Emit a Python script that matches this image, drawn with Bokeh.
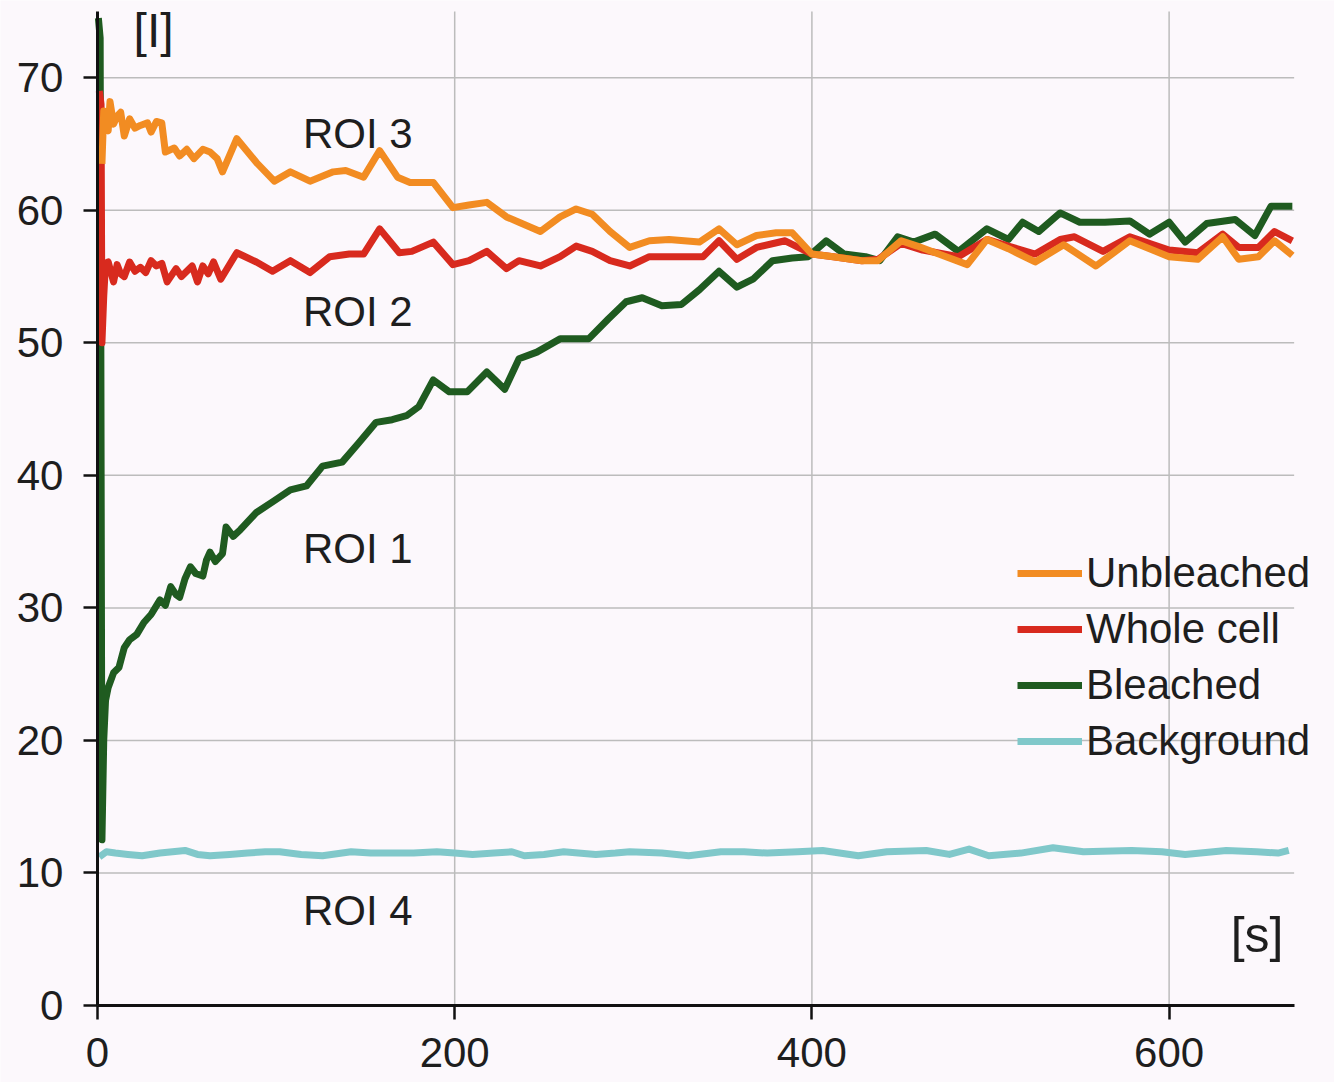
from bokeh.plotting import figure
from bokeh.models import Range1d, FixedTicker, Label, Legend, LegendItem, LinearAxis
from bokeh.embed import file_html
from bokeh.resources import INLINE

# ---------------- data ----------------
x_ticks = [0, 200, 400, 600]
y_ticks = [0, 10, 20, 30, 40, 50, 60, 70]
X_MAX = 670
Y_MAX = 75

bleached_t = [0.5, 1.5, 2.5, 3.5, 4.5, 6, 9, 12, 15, 18,
              22, 26, 30, 35, 38, 41, 44, 46, 49, 52,
              55, 59, 61, 63, 66, 70, 72, 76, 80, 89,
              98, 108, 117, 126, 137, 146, 156, 165, 173, 180,
              188, 197, 207, 218, 228, 236, 246, 259, 275, 286,
              296, 305, 316, 327, 337, 348, 358, 367, 378, 389,
              398, 408, 418, 430, 438, 448, 457, 469, 482, 498,
              510, 518, 527, 539, 550, 564, 578, 589, 600, 609,
              621, 637, 648, 657, 669]
bleached_v = [74.5, 73.0, 12.5, 20.0, 23.0, 24.0, 25.1, 25.5, 27.0, 27.6,
              28.0, 28.9, 29.5, 30.6, 30.2, 31.6, 31.0, 30.8, 32.2, 33.1,
              32.6, 32.4, 33.6, 34.2, 33.5, 34.1, 36.1, 35.4, 35.9, 37.2,
              38.0, 38.9, 39.2, 40.7, 41.0, 42.4, 44.0, 44.2, 44.5, 45.2,
              47.2, 46.3, 46.3, 47.8, 46.5, 48.8, 49.3, 50.3, 50.3, 51.8,
              53.1, 53.4, 52.8, 52.9, 54.0, 55.4, 54.2, 54.8, 56.2, 56.4,
              56.5, 57.7, 56.7, 56.5, 56.2, 58.0, 57.6, 58.2, 56.9, 58.6,
              57.8, 59.1, 58.4, 59.8, 59.1, 59.1, 59.2, 58.2, 59.1, 57.6,
              59.0, 59.3, 58.1, 60.3, 60.3]

whole_t = [1, 2, 2.5, 3.5, 4.5, 6, 9, 11, 13, 15,
           18, 21, 24, 27, 30, 33, 36, 39, 44, 47,
           50, 53, 56, 59, 62, 65, 69, 78, 89, 98,
           108, 119, 130, 141, 149, 158, 169, 176, 188, 199,
           208, 218, 229, 236, 248, 259, 268, 277, 287, 298,
           309, 320, 327, 339, 348, 358, 369, 385, 400, 412,
           428, 437, 450, 462, 482, 498, 510, 525, 539, 547,
           563, 578, 600, 616, 630, 639, 650, 659, 669]
whole_v = [69.0, 68.0, 50.0, 53.5, 56.0, 56.1, 54.6, 55.9, 55.2, 55.0,
           56.1, 55.4, 55.7, 55.3, 56.2, 55.8, 56.0, 54.6, 55.6, 55.0,
           55.4, 55.8, 54.6, 55.8, 55.2, 56.1, 54.8, 56.8, 56.1, 55.4,
           56.2, 55.3, 56.5, 56.7, 56.7, 58.6, 56.8, 56.9, 57.6, 55.9,
           56.2, 56.9, 55.6, 56.2, 55.8, 56.5, 57.3, 56.9, 56.2, 55.8,
           56.5, 56.5, 56.5, 56.5, 57.7, 56.3, 57.2, 57.7, 56.7, 56.5,
           56.2, 56.3, 57.5, 57.0, 56.5, 57.8, 57.3, 56.7, 57.8, 58.0,
           56.9, 58.0, 57.0, 56.8, 58.2, 57.2, 57.2, 58.4, 57.7]

unbleached_t = [2.5, 3.5, 4.5, 6, 7, 9, 11, 13, 15, 18,
                21, 24, 28, 30, 33, 36, 38, 43, 46, 50,
                54, 59, 63, 67, 70, 78, 89, 99, 108, 119,
                132, 139, 149, 158, 168, 175, 188, 199, 208, 218,
                229, 236, 248, 259, 268, 277, 287, 298, 309, 320,
                337, 348, 358, 369, 380, 389, 400, 412, 428, 437,
                450, 459, 471, 487, 498, 510, 525, 541, 559, 578,
                600, 616, 630, 639, 650, 659, 669]
unbleached_v = [63.5, 67.5, 66.5, 66.0, 68.2, 66.5, 67.1, 67.4, 65.6, 66.9,
                66.2, 66.4, 66.6, 65.9, 66.7, 66.6, 64.4, 64.7, 64.1, 64.6,
                63.9, 64.6, 64.4, 63.9, 62.9, 65.4, 63.6, 62.2, 62.9, 62.2,
                62.9, 63.0, 62.5, 64.5, 62.5, 62.1, 62.1, 60.2, 60.4, 60.6,
                59.5, 59.1, 58.4, 59.5, 60.1, 59.7, 58.4, 57.2, 57.7, 57.8,
                57.6, 58.6, 57.4, 58.1, 58.3, 58.3, 56.7, 56.5, 56.2, 56.2,
                57.7, 57.3, 56.7, 55.9, 57.8, 57.1, 56.1, 57.4, 55.8, 57.7,
                56.5, 56.3, 58.0, 56.3, 56.5, 57.7, 56.6]

background_t = [1, 5, 10, 17, 25, 35, 49, 56, 63, 74,
                84, 94, 102, 114, 126, 142, 153, 164, 177, 190,
                200, 210, 222, 232, 239, 250, 261, 279, 290, 298,
                316, 331, 349, 362, 375, 392, 406, 426, 442, 464,
                477, 488, 499, 517, 535, 552, 579, 596, 609, 632,
                649, 661, 667]
background_v = [11.2, 11.6, 11.5, 11.4, 11.3, 11.5, 11.7, 11.4, 11.3, 11.4,
                11.5, 11.6, 11.6, 11.4, 11.3, 11.6, 11.5, 11.5, 11.5, 11.6,
                11.5, 11.4, 11.5, 11.6, 11.3, 11.4, 11.6, 11.4, 11.5, 11.6,
                11.5, 11.3, 11.6, 11.6, 11.5, 11.6, 11.7, 11.3, 11.6, 11.7,
                11.4, 11.8, 11.3, 11.5, 11.9, 11.6, 11.7, 11.6, 11.4, 11.7,
                11.6, 11.5, 11.7]

series_names = ["Unbleached", "Whole cell", "Bleached", "Background"]
roi_texts = ["ROI 3", "ROI 2", "ROI 1", "ROI 4"]
roi_y = [65.8, 52.4, 34.5, 7.2]
roi_x = 115.0

# ---------------- style ----------------
BG = "#fcf8fc"
FONT = "Liberation Sans"
TXT = "#1e1e1e"
C_ORANGE = "#f28c22"
C_RED = "#d82a1e"
C_GREEN = "#1f5b20"
C_CYAN = "#80c8ca"
LW = 7

# The frame covers the whole figure; the data area (0..X_MAX, 0..Y_MAX)
# sits inside it so that axis labels and legend are not clipped.
p = figure(width=1334, height=1082,
           x_range=Range1d(-54.3, 692.6), y_range=Range1d(-5.81, 75.83),
           output_backend="svg", toolbar_location=None,
           x_axis_location=None, y_axis_location=None,
           min_border_left=0, min_border_right=0,
           min_border_top=0, min_border_bottom=0,
           background_fill_color=BG, border_fill_color=BG,
           outline_line_color=None)
p.grid.visible = False

# grid lines (from the tick lists, bounded to the data area)
gx = [t for t in x_ticks if t > 0]
gy = [t for t in y_ticks if t > 0]
p.segment(x0=gx, y0=[0] * len(gx), x1=gx, y1=[Y_MAX] * len(gx),
          line_color="#bcbcbc", line_width=1.5)
p.segment(x0=[0] * len(gy), y0=gy, x1=[X_MAX] * len(gy), y1=gy,
          line_color="#bcbcbc", line_width=1.5)

# lines (drawing order: background, bleached, whole cell, unbleached)
r_bg = p.line(background_t, background_v, line_color=C_CYAN, line_width=LW, line_join="round")
r_bl = p.line(bleached_t, bleached_v, line_color=C_GREEN, line_width=LW, line_join="round")
r_wc = p.line(whole_t, whole_v, line_color=C_RED, line_width=LW, line_join="round")
r_ub = p.line(unbleached_t, unbleached_v, line_color=C_ORANGE, line_width=LW, line_join="round")

# axes drawn at x=0 / y=0 inside the frame
xax = LinearAxis(ticker=FixedTicker(ticks=x_ticks), fixed_location=0, bounds=(0, X_MAX))
yax = LinearAxis(ticker=FixedTicker(ticks=y_ticks), fixed_location=0, bounds=(0, Y_MAX))
for ax in (xax, yax):
    ax.axis_line_color = "#111111"
    ax.axis_line_width = 3
    ax.major_tick_line_color = "#111111"
    ax.major_tick_line_width = 2.5
    ax.major_tick_out = 14
    ax.major_tick_in = 0
    ax.minor_tick_line_color = None
    ax.major_label_text_font = FONT
    ax.major_label_text_font_size = "42px"
    ax.major_label_text_color = TXT
    ax.major_label_standoff = 20
xax.major_label_standoff = 19
p.add_layout(xax, "below")
p.add_layout(yax, "left")

legend = Legend(items=[LegendItem(label=series_names[0], renderers=[r_ub]),
                       LegendItem(label=series_names[1], renderers=[r_wc]),
                       LegendItem(label=series_names[2], renderers=[r_bl]),
                       LegendItem(label=series_names[3], renderers=[r_bg])],
                location=(1017, 313), orientation="vertical",
                padding=0, margin=0, spacing=0,
                glyph_width=65, glyph_height=56, label_height=56,
                label_standoff=4,
                label_text_font=FONT, label_text_font_size="42px",
                label_text_color=TXT, label_text_baseline="middle",
                border_line_color=None, background_fill_alpha=0)
p.add_layout(legend, "center")

# annotations
p.add_layout(Label(x=20.2, y=73.6, text="[I]", text_font=FONT, text_font_size="48px",
                   text_color=TXT, text_baseline="middle"))
p.add_layout(Label(x=664.0, y=5.3, text="[s]", text_font=FONT, text_font_size="50px",
                   text_color=TXT, text_baseline="middle", text_align="right"))
for t, yy in zip(roi_texts, roi_y):
    p.add_layout(Label(x=roi_x, y=yy, text=t, text_font=FONT, text_font_size="42px",
                       text_color=TXT, text_baseline="middle"))

html = file_html(p, INLINE)
html = html.replace("<body>", '<body style="margin:0;overflow:hidden;background:%s">' % BG, 1)
open("out.html", "w").write(html)
